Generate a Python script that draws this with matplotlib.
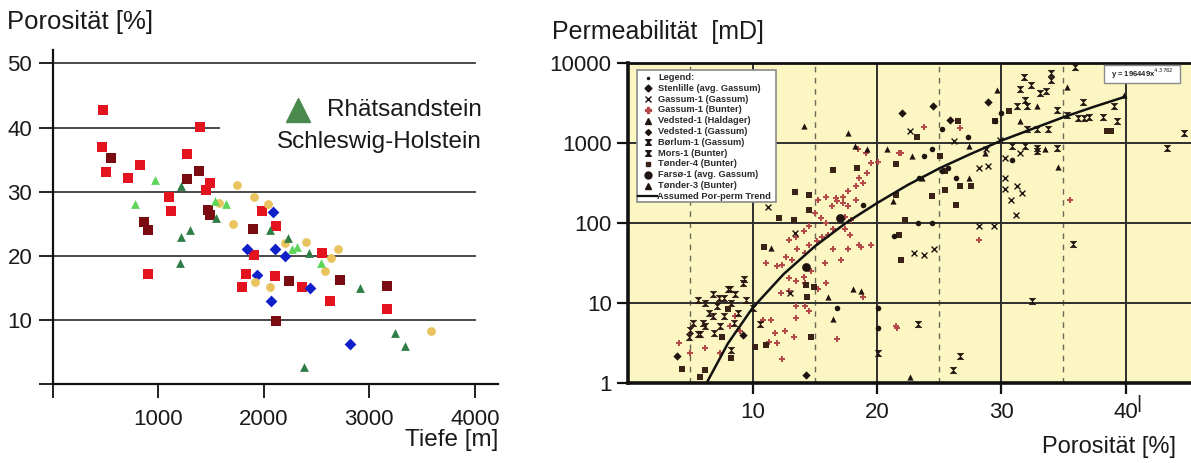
import matplotlib
matplotlib.use("Agg")
import matplotlib.pyplot as plt
from matplotlib.path import Path
from matplotlib.patches import Rectangle
from matplotlib.lines import Line2D

plt.rcParams['font.family'] = ['Liberation Sans', 'DejaVu Sans']

# ---------------- LEFT CHART DATA (Tiefe [m], Porosität [%]) ----------------
red_depth = [474, 468, 506, 711, 822, 904, 1097, 1123, 1268, 1391, 1455, 1492, 1979, 2119,
             1910, 1828, 1790, 2106, 2365, 2555, 2625, 3171]
red_por = [42.8, 37.0, 33.1, 32.2, 34.1, 17.2, 29.1, 27.0, 35.9, 40.1, 30.2, 31.3, 27.0, 24.7,
           20.2, 17.2, 15.2, 16.9, 15.2, 20.4, 13.0, 11.7]
dred_depth = [547, 863, 904, 1268, 1382, 1467, 1486, 1897, 2239, 2726, 3171, 2115]
dred_por = [35.2, 25.2, 24.1, 32.0, 33.3, 27.2, 26.4, 24.2, 16.1, 16.2, 15.3, 9.9]
blue_depth = [2087, 1840, 2103, 2198, 1932, 2441, 2065, 2817]
blue_por = [26.9, 21.0, 21.0, 20.0, 17.0, 15.0, 13.0, 6.2]
yel_depth = [1745, 1904, 2043, 1572, 1708, 2201, 2397, 2707, 2634, 2583, 1916, 2055, 3589]
yel_por = [31.0, 29.1, 28.1, 28.3, 24.9, 22.0, 22.1, 21.0, 19.6, 17.7, 15.9, 15.2, 8.2]
lgreen_depth = [964, 775, 1541, 1645, 2271, 2318, 2539]
lgreen_por = [31.8, 28.0, 28.6, 28.0, 21.1, 21.4, 18.8]
dgreen_depth = [1217, 1211, 1303, 1208, 1543, 2055, 2232, 2428, 2912, 3247, 3336, 2381]
dgreen_por = [30.9, 22.9, 24.0, 18.8, 25.9, 24.0, 22.8, 20.5, 15.0, 8.0, 6.0, 2.6]

left_xticks = [0, 1000, 2000, 3000, 4000]
left_xlabels = ['', '1000', '2000', '3000', '4000']
left_yticks = [0, 10, 20, 30, 40, 50]
left_ylabels = ['', '10', '20', '30', '40', '50']

# ---------------- RIGHT CHART DATA (Porosität [%], Permeabilität [mD]) ----------------
mors_por = [5.6, 6.8, 8.0, 9.3, 9.2, 5.2, 5.8, 4.9, 6.5, 7.1, 7.4, 8.3, 10.0, 10.6, 9.5,
            7.7, 8.3, 8.8, 6.2, 6.8, 8.5, 7.7, 6.2, 5.0, 8.2, 8.6, 7.3, 6.0, 6.9, 5.6]
mors_perm = [11, 13, 15, 20, 18, 5.7, 4.1, 3.8, 7.5, 9.1, 5.1, 2.6, 8.7, 5.4, 11,
             11.5, 10, 7.5, 10, 6.8, 5.6, 6.8, 5.1, 4.6, 15, 13, 11.5, 5.7, 4.2, 4.1]
borlum_por = [35.9, 31.8, 34.0, 34.0, 32.4, 31.5, 33.1, 33.6, 31.9, 31.3, 32.1, 34.5, 36.6,
              39.1, 38.2, 39.3, 37.1, 36.7, 36.2, 35.3, 32.9, 32.1, 33.8, 34.5, 32.9, 32.9,
              31.9, 30.9, 44.7, 43.3, 23.3, 26.7, 26.1, 20.1, 32.5, 35.8]
borlum_perm = [8900, 6700, 7400, 6100, 5370, 4680, 4270, 4470, 3470, 2880, 2880, 2570, 3240,
               2880, 2140, 1860, 2140, 2040, 2040, 2240, 1480, 1480, 1500, 870, 870, 794,
               910, 910, 1320, 870, 5.5, 2.2, 1.45, 2.4, 10.7, 54]
gassum_por = [30.3, 31.5, 30.3, 30.3, 31.3, 31.7, 30.8, 31.2, 28.2, 29.4, 26.2, 28.2,
              28.9, 28.8, 22.7, 23.0, 23.8, 24.6, 11.2, 13.4, 13.0, 29.9]
gassum_perm = [645, 741, 363, 269, 288, 234, 195, 126, 91, 91, 1050, 490,
               513, 832, 1410, 41.7, 39.8, 46.8, 158, 75, 13.5, 1100]
bunter_por = [10.8, 11.5, 11.3, 12.0, 12.4, 11.8, 12.6, 13.3, 13.5, 14.2, 14.5, 16.8, 12.3,
              12.9, 13.5, 14.1, 12.9, 11.1, 12.0, 12.4, 12.7, 13.2, 13.6, 14.2, 14.5, 15.2,
              15.6, 16.1, 16.5, 15.9, 15.5, 15.0, 14.5, 14.1, 13.5, 12.9, 16.4, 16.8, 17.3,
              17.7, 18.3, 18.9, 18.6, 19.2, 19.5, 19.1, 18.5, 17.3, 17.7, 18.3, 15.9, 16.7,
              15.3, 17.4, 17.9, 17.4, 16.5, 17.7, 18.6, 19.5, 17.1, 15.8, 14.7, 15.9, 15.3,
              18.9, 14.2, 13.5, 21.5, 23.8, 21.8, 28.2, 35.5, 26.7, 4.1, 5.0, 6.2, 7.4, 8.2,
              8.6, 9.0, 20.1, 21.9, 21.6, 17.8, 18.7]
bunter_perm = [6.2, 6.2, 3.3, 3.2, 2.0, 4.2, 4.5, 3.8, 6.5, 9.1, 8.0, 3.5, 13.5,
               14, 18.6, 21.4, 20.4, 31.6, 28.8, 29.5, 38, 34.7, 46.8, 42, 53.7, 58.9,
               67.6, 70.8, 83, 100, 115, 133, 91, 79, 67.6, 61.7, 162, 186, 214,
               251, 288, 316, 363, 422, 562, 750, 832, 178, 162, 195, 214, 204,
               195, 120, 110, 83, 46.8, 46.8, 53.7, 53.7, 34.7, 31.6, 25, 17.8, 14.8,
               12, 17.8, 9.1, 5.1, 1585, 750, 62, 195, 1550, 3.2, 2.4, 2.75, 2.4, 5.1,
               6.8, 4.5, 585, 741, 4.9, 71, 50]
tonder4_por = [10.9, 12.1, 13.4, 14.5, 14.5, 13.3, 16.5, 18.4, 21.5, 21.5, 23.2, 24.4, 25.5,
               26.4, 26.7, 27.6, 25.1, 25.5, 26.5, 30.6, 29.5, 38.5, 38.8, 14.3, 14.9, 14.4,
               14.7, 11.1, 21.8, 21.9, 22.3, 4.3, 5.8, 6.2, 8.3, 10.2, 8.0, 7.5]
tonder4_perm = [50, 115, 245, 222, 147, 110, 455, 490, 550, 222, 1200, 215, 255,
                170, 288, 288, 680, 445, 1860, 2520, 1860, 1420, 1420, 17, 16, 12,
                3.8, 3.0, 71, 34, 110, 1.5, 1.2, 1.45, 2.05, 2.8, 8.5, 3.8]
tonder3_por = [17.7, 18.2, 19.2, 20.8, 22.8, 23.6, 21.3, 11.5, 16.1, 18.1, 18.7, 22.7,
               27.4, 27.4, 28.7, 31.5, 32.9, 33.5, 34.6, 39.9]
tonder3_perm = [1330, 910, 840, 850, 680, 365, 187, 49, 12, 15, 14, 1.2,
                370, 910, 750, 1900, 2880, 830, 500, 4000]
haldager_por = [14.1, 16.5, 29.7, 35.3]
haldager_perm = [1620, 6.3, 4640, 5000]
stenlille_por = [22.0, 24.5, 28.9, 25.9, 3.9, 9.2, 14.3]
stenlille_perm = [2400, 2880, 3240, 1950, 2.2, 4.0, 1.27]
vedsted_por = [25.2, 27.3, 29.5, 30.0, 23.4, 23.8, 24.4, 25.7, 26.4, 30.9, 23.3, 24.4,
               21.4, 18.9, 20.1, 20.1, 16.8, 25.2]
vedsted_perm = [1480, 1190, 1900, 2370, 363, 680, 830, 490, 363, 620, 100, 100,
                68, 170, 8.7, 4.9, 8.7, 445]
farso_por = [17.0, 14.3]
farso_perm = [115, 28]
trend_por = [6.3, 8, 10, 12.5, 15, 17.5, 20, 22.5, 25, 27.5, 30, 32.5, 35, 37.5, 40]
trend_perm = [1.0, 3.1, 8.7, 23, 51, 100, 177, 300, 480, 725, 1070, 1500, 2100, 2850, 3800]

right_xticks = [10, 20, 30, 40]
right_yticks = [1, 10, 100, 1000, 10000]
legend_labels = ["Legend:", "Stenlille (avg. Gassum)", "Gassum-1 (Gassum)", "Gassum-1 (Bunter)",
                 "Vedsted-1 (Haldager)", "Vedsted-1 (Gassum)", "Børlum-1 (Gassum)",
                 "Mors-1 (Bunter)", "Tønder-4 (Bunter)", "Farsø-1 (avg. Gassum)",
                 "Tønder-3 (Bunter)", "Assumed Por-perm Trend"]

# ---------------- FIGURE ----------------
W, H = 1191, 463
fig = plt.figure(figsize=(W / 100, H / 100), dpi=100)
fig.patch.set_facecolor('white')

def fx(px):
    return px / W

def fy(py):
    return 1 - py / H

# ---------- left axes ----------
axL = fig.add_axes([fx(53), fy(384), fx(498 - 53), (384 - 50) / H])
axL.set_xlim(0, 4220)
axL.set_ylim(0, 52.1)
for s in ['top', 'right']:
    axL.spines[s].set_visible(False)
for s in ['left', 'bottom']:
    axL.spines[s].set_linewidth(1.6)
    axL.spines[s].set_color('#111111')
for yv in [10, 20, 30, 50]:
    axL.plot([0, 4000], [yv, yv], color='#3a3a3a', lw=1.3, zorder=1)
axL.plot([0, 1570], [40, 40], color='#3a3a3a', lw=1.3, zorder=1)
axL.set_xticks(left_xticks)
axL.set_xticklabels(left_xlabels)
axL.set_yticks(left_yticks)
axL.set_yticklabels(left_ylabels)
axL.tick_params(axis='both', direction='out', length=10, width=1.4, color='#222222',
                labelsize=16, labelcolor='#1a1a1a')
axL.tick_params(axis='x', pad=8)
axL.tick_params(axis='y', pad=5)

axL.scatter(red_depth, red_por, marker='s', s=48, c='#e3141f', zorder=3, linewidths=0)
axL.scatter(dred_depth, dred_por, marker='s', s=48, c='#7a0b10', zorder=3, linewidths=0)
axL.scatter(blue_depth, blue_por, marker='D', s=36, c='#1020c8', zorder=3, linewidths=0)
axL.scatter(yel_depth, yel_por, marker='o', s=40, c='#e9c45e', zorder=3, linewidths=0)
axL.scatter(lgreen_depth, lgreen_por, marker='^', s=40, c='#5ed55a', zorder=3, linewidths=0)
axL.scatter(dgreen_depth, dgreen_por, marker='^', s=40, c='#2f7d46', zorder=3, linewidths=0)

fig.text(fx(7), fy(22), 'Porosität [%]', fontsize=18.5, va='center', ha='left', color='#1a1a1a')
fig.text(fx(498), fy(440), 'Tiefe [m]', fontsize=17.5, va='center', ha='right', color='#1a1a1a')
fig.add_artist(Line2D([fx(298)], [fy(110)], marker='^', markersize=17, color='#4a8a4e',
                      linestyle='none', transform=fig.transFigure))
fig.text(fx(327), fy(110), 'Rhätsandstein', fontsize=17.5, va='center', ha='left', color='#1a1a1a')
fig.text(fx(482), fy(142), 'Schleswig-Holstein', fontsize=17.5, va='center', ha='right', color='#1a1a1a')

# ---------- right axes ----------
x0R = 628.3
pxu = 12.43
axR = fig.add_axes([fx(x0R), fy(383), 1 - fx(x0R), (383 - 63) / H])
axR.set_facecolor('#fcf6c3')
axR.set_yscale('log')
axR.set_ylim(1, 10000)
axR.set_xlim(0, (W - x0R) / pxu)
axR.spines['right'].set_visible(False)
axR.spines['left'].set_linewidth(2.6)
axR.spines['bottom'].set_linewidth(2.6)
axR.spines['top'].set_linewidth(2.0)
for s in ['left', 'bottom', 'top']:
    axR.spines[s].set_color('#111111')
axR.set_xticks(right_xticks)
axR.set_xticklabels([str(v) for v in right_xticks])
axR.set_yticks(right_yticks)
axR.set_yticklabels([str(v) for v in right_yticks])
axR.minorticks_off()
axR.tick_params(axis='both', direction='out', length=8, width=1.6, color='#111111',
                labelsize=16, labelcolor='#1a1a1a')
axR.tick_params(axis='x', pad=6)
axR.tick_params(axis='y', pad=4)
for xv in [10, 20, 30, 40]:
    axR.axvline(xv, color='#2e2e2e', lw=1.4, zorder=1)
for xv in [5, 15, 25, 35]:
    axR.axvline(xv, color='#6a6a55', lw=1.0, linestyle=(0, (4, 4)), zorder=1)
for yv in [10, 100, 1000]:
    axR.axhline(yv, color='#2e2e2e', lw=1.4, zorder=1)

hour = Path([(-1, 1), (1, 1), (-1, -1), (1, -1), (-1, 1)],
            [Path.MOVETO, Path.LINETO, Path.LINETO, Path.LINETO, Path.CLOSEPOLY])
dark = '#1f1510'
axR.scatter(bunter_por, bunter_perm, marker='P', s=16, c='#b54a4a', linewidths=0, zorder=3)
axR.scatter(mors_por, mors_perm, marker=hour, s=22, c='#2a1510', linewidths=0.4,
            edgecolors='#2a1510', zorder=4)
axR.scatter(borlum_por, borlum_perm, marker=hour, s=22, c=dark, linewidths=0.4,
            edgecolors=dark, zorder=4)
axR.scatter(gassum_por, gassum_perm, marker='x', s=18, c=dark, linewidths=1.0, zorder=4)
axR.scatter(tonder4_por, tonder4_perm, marker='s', s=18, c='#3b2216', linewidths=0, zorder=4)
axR.scatter(tonder3_por, tonder3_perm, marker='^', s=20, c=dark, linewidths=0, zorder=4)
axR.scatter(haldager_por, haldager_perm, marker='^', s=20, c=dark, linewidths=0, zorder=4)
axR.scatter(stenlille_por, stenlille_perm, marker='D', s=18, c=dark, linewidths=0, zorder=4)
axR.scatter(vedsted_por, vedsted_perm, marker='o', s=16, c=dark, linewidths=0, zorder=4)
axR.scatter(farso_por, farso_perm, marker='o', s=40, c=dark, linewidths=0, zorder=4)
axR.plot(trend_por, trend_perm, color='#111111', lw=1.8, zorder=5, solid_capstyle='round')

# "|" after 40
fig.text(fx(1139), fy(404), '|', fontsize=14, va='center', ha='center', color='#1a1a1a')

fig.text(fx(552), fy(32), 'Permeabilität  [mD]', fontsize=18, va='center', ha='left', color='#1a1a1a')
fig.text(fx(1176), fy(447), 'Porosität [%]', fontsize=17, va='center', ha='right', color='#1a1a1a')

# legend box
fig.add_artist(Rectangle((fx(637), fy(202)), fx(776 - 637), (202 - 70) / H,
                         transform=fig.transFigure, facecolor='white', edgecolor='#8a8a8a',
                         lw=1.2, zorder=10))
leg_markers = [('.', 3, dark), ('D', 3.5, dark), ('x', 4, dark), ('P', 4, '#b54a4a'),
               ('^', 4, dark), ('D', 3, dark), (hour, 4, dark), (hour, 4, dark),
               ('s', 3.5, '#3b2216'), ('o', 5, dark), ('^', 4, dark)]
for i, lab in enumerate(legend_labels):
    yy = 77.5 + i * 10.8
    if i < len(leg_markers):
        m, ms, col = leg_markers[i]
        fig.add_artist(Line2D([fx(648)], [fy(yy)], marker=m, markersize=ms, color=col,
                              linestyle='none', transform=fig.transFigure, zorder=11))
        tx = 658
    else:
        fig.add_artist(Line2D([fx(638), fx(657)], [fy(yy), fy(yy)], color='#111111', lw=1.6,
                              transform=fig.transFigure, zorder=11))
        tx = 657
    fig.text(fx(tx), fy(yy), lab, fontsize=6.7, fontweight='bold', va='center', ha='left',
             color='#2a2a2a', zorder=12)

# equation box
fig.add_artist(Rectangle((fx(1104), fy(83)), fx(1180 - 1104), (83 - 65) / H,
                         transform=fig.transFigure, facecolor='white', edgecolor='#8a8a8a',
                         lw=1.0, zorder=10))
fig.text(fx(1142), fy(74), r'y = 196449x$^{4.3762}$', fontsize=5.5, fontweight='bold',
         va='center', ha='center', color='#222222', zorder=12)

fig.savefig('out.png', dpi=100)
